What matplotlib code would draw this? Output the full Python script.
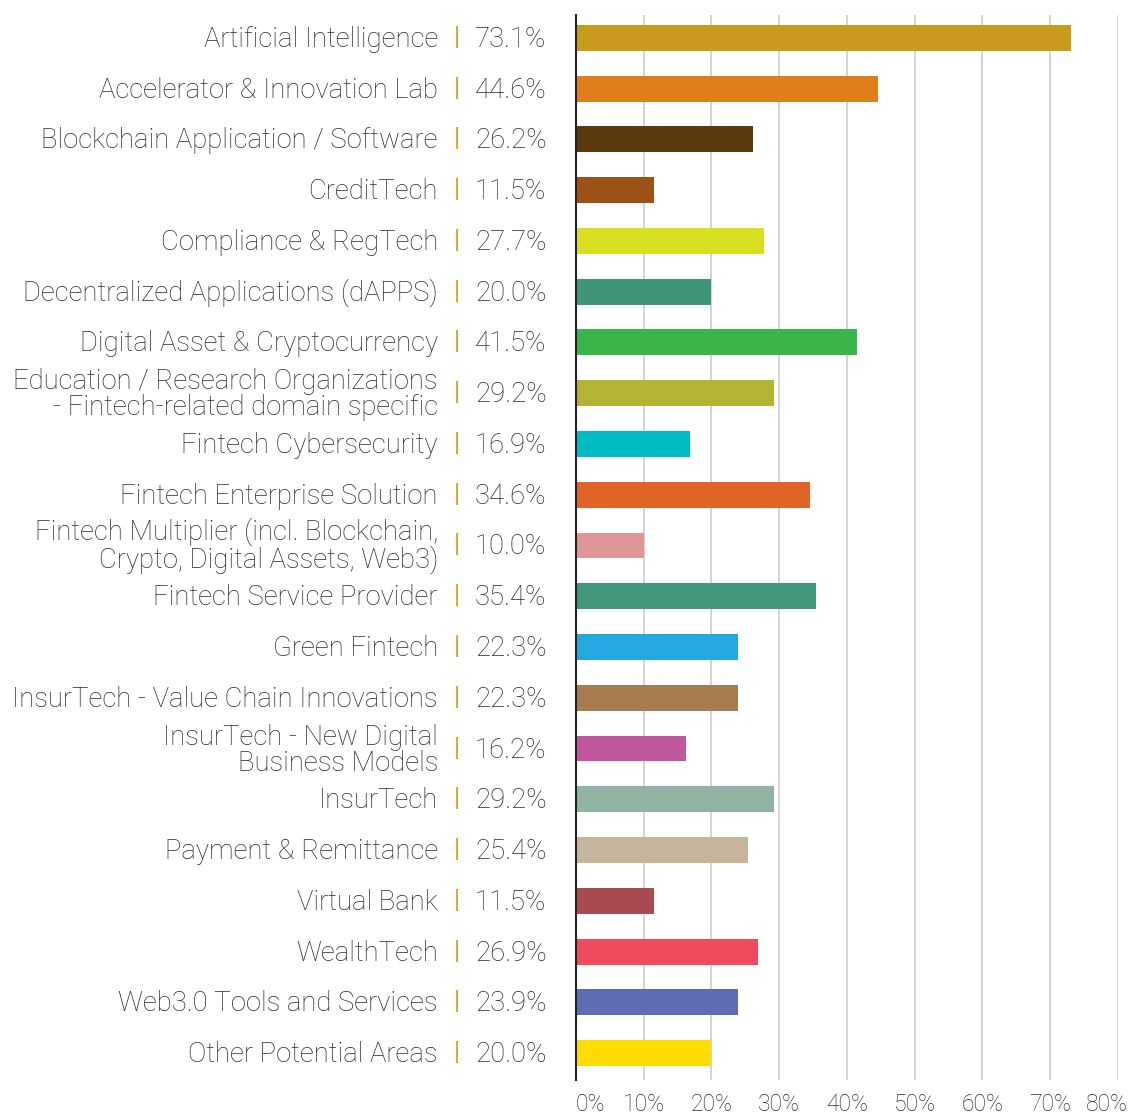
import matplotlib.pyplot as plt
from matplotlib.ticker import FixedLocator
from matplotlib.transforms import offset_copy, ScaledTranslation

# Data
categories = [
    'Artificial Intelligence',
    'Accelerator & Innovation Lab',
    'Blockchain Application / Software',
    'CreditTech',
    'Compliance & RegTech',
    'Decentralized Applications (dAPPS)',
    'Digital Asset & Cryptocurrency',
    'Education / Research Organizations\n- Fintech-related domain specific',
    'Fintech Cybersecurity',
    'Fintech Enterprise Solution',
    'Fintech Multiplier (incl. Blockchain,\nCrypto, Digital Assets, Web3)',
    'Fintech Service Provider',
    'Green Fintech',
    'InsurTech - Value Chain Innovations',
    'InsurTech - New Digital\nBusiness Models',
    'InsurTech',
    'Payment & Remittance',
    'Virtual Bank',
    'WealthTech',
    'Web3.0 Tools and Services',
    'Other Potential Areas',
]
# values printed next to the labels
shown = [73.1, 44.6, 26.2, 11.5, 27.7, 20.0, 41.5, 29.2, 16.9, 34.6, 10.0,
         35.4, 22.3, 22.3, 16.2, 29.2, 25.4, 11.5, 26.9, 23.9, 20.0]
# bar lengths as drawn (two bars do not match their printed value)
bars = [73.1, 44.6, 26.2, 11.5, 27.7, 20.0, 41.5, 29.2, 16.9, 34.6, 10.0,
        35.4, 23.9, 23.9, 16.2, 29.2, 25.4, 11.5, 26.9, 23.9, 20.0]
colors = ['#C89B1C', '#E07E1C', '#5A390E', '#9C5214', '#D8E021', '#429678',
          '#3BB44A', '#B3B335', '#00BAC4', '#E06428', '#E09597', '#42967C',
          '#23A9E0', '#A87B51', '#C0589F', '#8FB5A2', '#C6B59C', '#A84A50',
          '#EE4C5C', '#5E6CB4', '#FEDC00']
ticks = [0, 10, 20, 30, 40, 50, 60, 70, 80]

plt.rcParams['font.family'] = ['Roboto', 'DejaVu Sans']
txt = '#2A2A2A'
fw = 'light'
fs = 19.8

fig = plt.figure(figsize=(11.3, 11.17), dpi=100)
ax = fig.add_axes([0.5097, 0.0331, 0.4796, 0.9535])

y = list(range(len(categories)))
ax.barh(y, bars, height=0.51, color=colors, zorder=3)

ax.set_xlim(0, 80)
ax.set_ylim(20.53, -0.45)
ax.set_yticks([])
ax.xaxis.set_major_locator(FixedLocator(ticks))
ax.set_xticklabels([f'{t}%' for t in ticks], fontsize=16.5, color=txt,
                   fontweight=fw)
ax.tick_params(axis='x', length=0, pad=9)
labs = ax.get_xticklabels()
labs[0].set_horizontalalignment('left')
labs[-1].set_horizontalalignment('right')
labs[-1].set_transform(labs[-1].get_transform() +
                       ScaledTranslation(0.1, 0, fig.dpi_scale_trans))

ax.grid(axis='x', color='#CCCCCC', linewidth=1.2, zorder=0)
for s in ['top', 'right', 'bottom']:
    ax.spines[s].set_visible(False)
ax.spines['left'].set_color('#222222')
ax.spines['left'].set_linewidth(1.5)
ax.spines['left'].set_zorder(4)

tr = ax.get_yaxis_transform()
for i, (c, v) in enumerate(zip(categories, shown)):
    n = c.count('\n')
    trc = offset_copy(tr, fig=fig, y=-(9 + 13 * n), units='dots')
    trv = offset_copy(tr, fig=fig, y=-9, units='dots')
    ax.text(-0.2546, i, c, transform=trc, ha='right', va='baseline',
            fontsize=fs, color=txt, fontweight=fw, linespacing=0.95)
    ax.text(-0.2196, i, '|', transform=tr, ha='center', va='center',
            fontsize=18, color='#D9A520', fontweight='normal')
    ax.text(-0.1863, i, f'{v:.1f}%', transform=trv, ha='left', va='baseline',
            fontsize=fs, color=txt, fontweight=fw)

fig.savefig('out.png', dpi=100)
